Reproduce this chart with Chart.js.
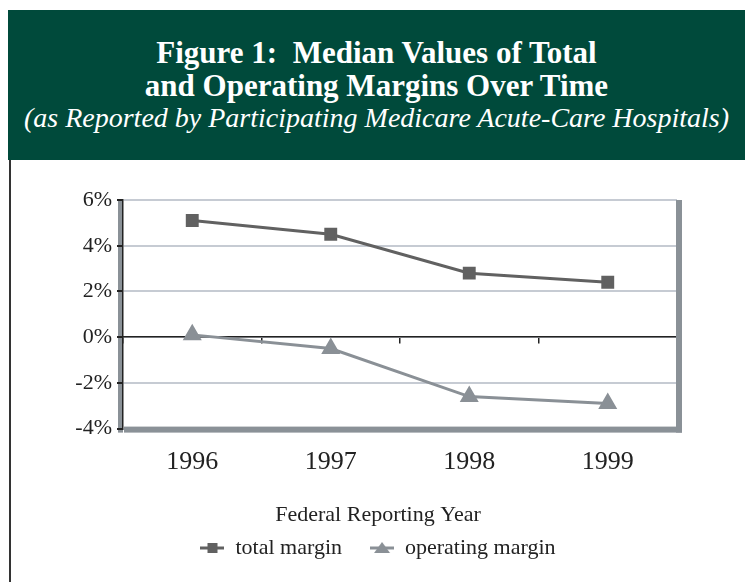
<!DOCTYPE html>
<html>
<head>
<meta charset="utf-8">
<script src="https://cdn.jsdelivr.net/npm/chart.js@4.4.1/dist/chart.umd.min.js"></script>
<style>
  body { margin: 0; background: #fff; width: 745px; height: 582px; overflow: hidden; position: relative; }
  #header {
    position: absolute; left: 8px; top: 10px; width: 737px; height: 150px;
    background: #004a3b; color: #fff; text-align: center;
    font-family: "Liberation Serif", serif;
  }
  #header .t { font-weight: bold; font-size: 31px; line-height: 33px; }
  #header .s { font-style: italic; font-size: 28px; line-height: 32px; }
  #leftline { position: absolute; left: 9px; top: 160px; width: 2px; height: 422px; background: #333; }
  #wrap { position: absolute; left: 11px; top: 160px; width: 734px; height: 422px; }
</style>
</head>
<body>
<div id="header">
  <div style="height:26px"></div>
  <div class="t">Figure 1:&nbsp; Median Values of Total</div>
  <div class="t">and Operating Margins Over Time</div>
  <div class="s">(as Reported by Participating Medicare Acute-Care Hospitals)</div>
</div>
<div id="leftline"></div>
<div id="wrap"><canvas id="LineChart"></canvas></div>
<script>
const years = ['1996', '1997', '1998', '1999'];
const totalMargin = [5.1, 4.5, 2.8, 2.4];
const operatingMargin = [0.1, -0.5, -2.6, -2.9];
const yTicks = [-4, -2, 0, 2, 4, 6];

const serif = '"Liberation Serif", "Times New Roman", serif';

// little line-with-marker icons for the legend
function legendIcon(shape, color) {
    const c = document.createElement('canvas');
    c.width = 24; c.height = 16;
    const g = c.getContext('2d');
    g.strokeStyle = color; g.fillStyle = color; g.lineWidth = 3;
    g.beginPath(); g.moveTo(0, 8); g.lineTo(24, 8); g.stroke();
    g.beginPath();
    if (shape === 'rect') {
        g.rect(7, 3, 10, 10);
    } else {
        g.moveTo(12, 2); g.lineTo(20, 13); g.lineTo(4, 13); g.closePath();
    }
    g.fill();
    return c;
}

// grey "shadow" frame round the plot
const framePlugin = {
    id: 'frame',
    beforeDraw(chart) {
        const { ctx, chartArea: a } = chart;
        ctx.save();
        ctx.fillStyle = '#8a9197';
        ctx.fillRect(a.left - 5, a.top, 5, a.bottom - a.top + 4);
        ctx.restore();
    },
    beforeDatasetsDraw(chart) {
        const { ctx, chartArea: a } = chart;
        ctx.save();
        ctx.fillStyle = '#8a9197';
        ctx.fillRect(a.left + 1, a.bottom - 2, a.right - a.left + 4, 6);
        ctx.fillRect(a.right - 1, a.top, 6, a.bottom - a.top + 4);
        ctx.restore();
    }
};

const ctxLine = document.getElementById('LineChart').getContext('2d');
new Chart(ctxLine, {
    type: 'line',
    data: {
        labels: years,
        datasets: [{
            label: 'total margin',
            data: totalMargin,
            borderColor: '#616161',
            backgroundColor: '#616161',
            borderWidth: 3,
            pointStyle: 'rect',
            pointRadius: 7,
            tension: 0
        }, {
            label: 'operating margin',
            data: operatingMargin,
            borderColor: '#8a9096',
            backgroundColor: '#8a9096',
            borderWidth: 3,
            pointStyle: 'triangle',
            pointRadius: 8,
            tension: 0
        }]
    },
    options: {
        responsive: true,
        maintainAspectRatio: false,
        animation: false,
        layout: { padding: { top: 40, right: 0, bottom: 13, left: 0 } },
        scales: {
            x: {
                offset: true,
                grid: { display: false },
                border: { display: false },
                ticks: { color: '#222', padding: 10, font: { family: serif, size: 26 } },
                afterFit(scale) { scale.height = 58; }
            },
            x2: {
                type: 'category',
                labels: years,
                position: { y: 0 },
                offset: true,
                grid: { offset: true, drawOnChartArea: false, color: '#222', tickLength: 6, lineWidth: 1.5 },
                border: { color: '#222', width: 1.5 },
                ticks: { display: false }
            },
            y: {
                min: -4,
                max: 6,
                afterBuildTicks(scale) { scale.ticks = yTicks.map(v => ({ value: v })); },
                grid: { color: '#c6cbd3', lineWidth: 2, tickColor: '#222', tickLength: 6 },
                border: { color: '#222', width: 1.5 },
                ticks: {
                    color: '#222', padding: 5, font: { family: serif, size: 22 },
                    callback: v => v + '%'
                },
                afterFit(scale) { scale.width = 112; }
            },
            // empty right axis, only keeps the blank margin right of the plot
            yRight: {
                position: 'right',
                min: -4,
                max: 6,
                grid: { display: false },
                border: { display: false },
                ticks: { display: false },
                afterFit(scale) { scale.width = 68; }
            }
        },
        plugins: {
            title: {
                display: true,
                text: 'Federal Reporting Year',
                position: 'bottom',
                weight: 500,
                color: '#222',
                font: { family: serif, size: 22, weight: 'normal' },
                padding: { top: 15, bottom: -19 }
            },
            legend: {
                position: 'bottom',
                labels: {
                    usePointStyle: true,
                    pointStyleWidth: 24,
                    color: '#222',
                    padding: 28,
                    font: { family: serif, size: 22 },
                    generateLabels(chart) {
                        return chart.data.datasets.map((ds, i) => ({
                            text: ds.label,
                            datasetIndex: i,
                            fontColor: '#222',
                            pointStyle: legendIcon(i === 0 ? 'rect' : 'tri', ds.borderColor),
                            lineWidth: 0,
                            strokeStyle: 'transparent',
                            fillStyle: ds.borderColor
                        }));
                    }
                }
            },
            tooltip: { enabled: false }
        }
    },
    plugins: [framePlugin]
});
</script>
</body>
</html>
